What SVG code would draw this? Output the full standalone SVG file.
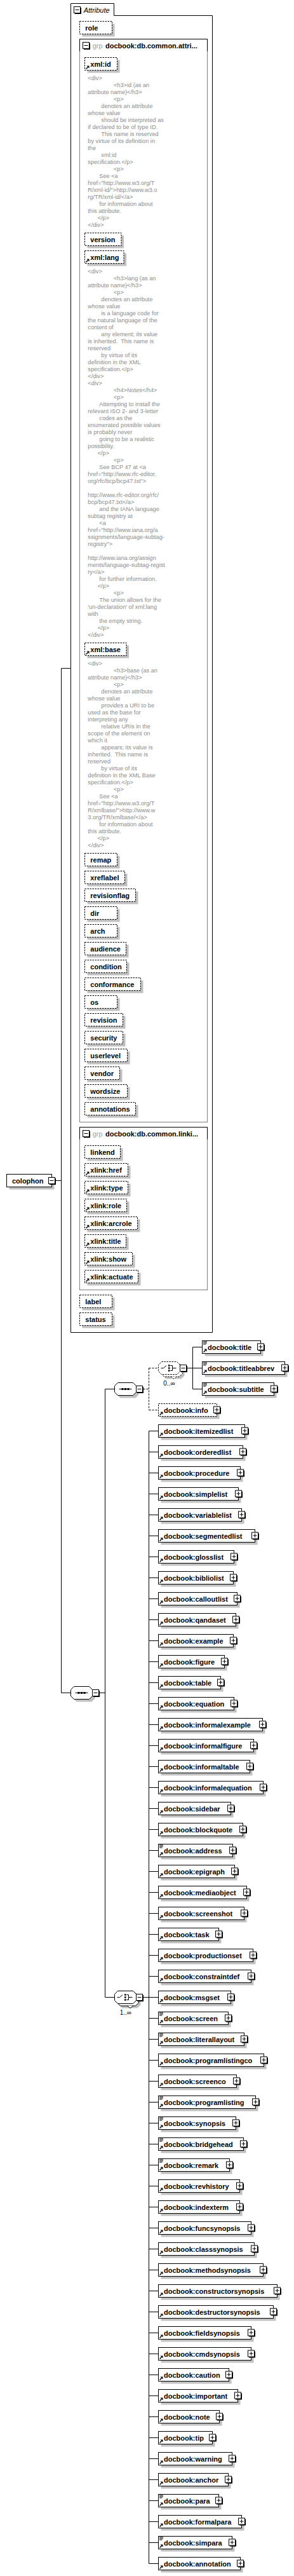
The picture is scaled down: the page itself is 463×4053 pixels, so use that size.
<svg xmlns="http://www.w3.org/2000/svg" width="463" height="4053" viewBox="0 0 463 4053">
<style>
.nm{font-family:"Liberation Sans",Arial,sans-serif;font-size:11px;font-weight:bold;fill:#000}
.ds{font-family:"Liberation Sans",Arial,sans-serif;font-size:9.2px;fill:#8c8c8c}
.gp{font-family:"Liberation Sans",Arial,sans-serif;font-size:11px;fill:#a0a0a0}
.it{font-family:"Liberation Sans",Arial,sans-serif;font-size:11px;font-style:italic;fill:#000}
.oc{font-family:"Liberation Sans",Arial,sans-serif;font-size:10px;fill:#000}
.sh{fill:#c0c0c0;stroke:none}
.bx{fill:#fff;stroke:#000;stroke-width:1}
.db{fill:#fff;stroke:#000;stroke-width:1;stroke-dasharray:2.5,1.5}
.fr{fill:none;stroke:#000;stroke-width:1}
.gf{fill:none;stroke:#808080;stroke-width:1}
.ln{fill:none;stroke:#000;stroke-width:1}
.dl{fill:none;stroke:#000;stroke-width:1;stroke-dasharray:3,2}
</style>
<defs>
<path id="oct" d="M5,0H29L34,5V15L29,20H5L0,15V5Z"/>
<g id="ra"><path d="M2,-2L5,-5" stroke="#000" stroke-width="1.4" fill="none"/><path d="M3,-7H7V-3Z" fill="#000"/></g>
<g id="mx"><path d="M1.5,1.5H7.5M1.5,3.5H7.5M1.5,5.5H6" stroke="#000" fill="none"/></g>
<g id="pl"><rect x="-4" y="-4" width="10" height="10" fill="#000"/><rect x="-5.5" y="-5.5" width="10" height="10" fill="#fff" stroke="#000"/><path d="M-3.5,-0.5H2.5M-0.5,-3.5V2.5" stroke="#000" fill="none"/></g>
<g id="mi"><rect x="-4" y="-4" width="10" height="10" fill="#000"/><rect x="-5.5" y="-5.5" width="10" height="10" fill="#fff" stroke="#000"/><path d="M-3.5,-0.5H2.5" stroke="#000" fill="none"/></g>
<g id="seqi"><path d="M7,10H27" stroke="#000" fill="none"/><rect x="11" y="8.5" width="3" height="3" fill="#000"/><rect x="15.5" y="8.5" width="3" height="3" fill="#000"/><rect x="20" y="8.5" width="3" height="3" fill="#000"/></g>
<g id="chi"><path d="M4,10H8L12.5,6M19,6H22V14H19M22,10H28" stroke="#000" fill="none"/><rect x="15.5" y="4.75" width="2.5" height="2.5" fill="#000"/><rect x="15.5" y="8.75" width="2.5" height="2.5" fill="#000"/><rect x="15.5" y="12.75" width="2.5" height="2.5" fill="#000"/></g>
</defs>
<rect width="463" height="4053" fill="#fff"/>

<g id="connectors">
<path class="ln" d="M87.5,1857.5H96.5M96.5,1051.5V2663.5M96.5,1051.5H111.5M96.5,2663.5H111.5"/>
<path class="ln" d="M156,2663.5H165.5M165.5,2185.5V3142.5M165.5,2185.5H180.5M165.5,3142.5H180.5"/>
<path class="dl" d="M225.5,2185.5H234.5M234.5,2152.5V2218.5M234.5,2152.5H249.5M234.5,2218.5H249.5"/>
<path class="ln" d="M294.5,2152.5H303.5M303.5,2119.5V2185.5M303.5,2119.5H318.5M303.5,2152.5H318.5M303.5,2185.5H318.5"/>
<path class="ln" d="M225.5,3142.5H234.5M234.5,2251.5V4033.5"/>
<path class="ln" d="M234.5,2251.5H249.5M234.5,2284.5H249.5M234.5,2317.5H249.5M234.5,2350.5H249.5M234.5,2383.5H249.5M234.5,2416.5H249.5M234.5,2449.5H249.5M234.5,2482.5H249.5M234.5,2515.5H249.5M234.5,2548.5H249.5M234.5,2581.5H249.5M234.5,2614.5H249.5M234.5,2647.5H249.5M234.5,2680.5H249.5M234.5,2713.5H249.5M234.5,2746.5H249.5M234.5,2779.5H249.5M234.5,2812.5H249.5M234.5,2845.5H249.5M234.5,2878.5H249.5M234.5,2911.5H249.5M234.5,2944.5H249.5M234.5,2977.5H249.5M234.5,3010.5H249.5M234.5,3043.5H249.5M234.5,3076.5H249.5M234.5,3109.5H249.5M234.5,3142.5H249.5M234.5,3175.5H249.5M234.5,3208.5H249.5M234.5,3241.5H249.5M234.5,3274.5H249.5M234.5,3307.5H249.5M234.5,3340.5H249.5M234.5,3373.5H249.5M234.5,3406.5H249.5M234.5,3439.5H249.5M234.5,3472.5H249.5M234.5,3505.5H249.5M234.5,3538.5H249.5M234.5,3571.5H249.5M234.5,3604.5H249.5M234.5,3637.5H249.5M234.5,3670.5H249.5M234.5,3703.5H249.5M234.5,3736.5H249.5M234.5,3769.5H249.5M234.5,3802.5H249.5M234.5,3835.5H249.5M234.5,3868.5H249.5M234.5,3901.5H249.5M234.5,3934.5H249.5M234.5,3967.5H249.5M234.5,4000.5H249.5M234.5,4033.5H249.5"/>
</g>

<g id="colophon">
<rect class="sh" x="14.5" y="1851.5" width="71" height="20"/>
<rect class="bx" x="10.5" y="1847.5" width="71" height="20"/>
<text class="nm" x="19" y="1861.5">colophon</text>
<use href="#mi" x="82" y="1858"/>
</g>

<g id="attributes">
<path class="fr" d="M111.5,5.5H179.5V24.5H334.5V2096.5H111.5Z"/>
<use href="#mi" x="122" y="16"/>
<text class="it" x="131.7" y="19.5">Attribute</text>

<g id="a-role" transform="translate(0,43.5)"><rect class="sh" x="129.5" y="-6" width="51" height="20"/><rect class="db" x="125.5" y="-10" width="51" height="20"/><text class="nm" x="134.3" y="4">role</text></g>

<g id="grp-common-attributes">
<rect class="gf" x="125.5" y="61.5" width="201" height="1704"/>
<path class="fr" d="M125.5,80.5V61.5H326.5V80.5"/>
<use href="#mi" x="136" y="72"/>
<text class="gp" x="145.7" y="75.5">grp</text>
<text class="nm" x="166" y="75.5">docbook:db.common.attri...</text>

<g id="a-xmlid" transform="translate(0,100.5)"><rect class="sh" x="137.5" y="-6" width="51" height="20"/><rect class="db" x="133.5" y="-10" width="51" height="20"/><use href="#ra" x="133.5" y="10"/><text class="nm" x="142.3" y="4">xml:id</text></g>
<text class="ds">
<tspan x="138.3" y="126">&lt;div&gt;</tspan>
<tspan x="179" y="137">&lt;h3&gt;id (as an</tspan>
<tspan x="138.3" y="148">attribute name)&lt;/h3&gt;</tspan>
<tspan x="179" y="159">&lt;p&gt;</tspan>
<tspan x="159.3" y="170">denotes an attribute</tspan>
<tspan x="138.3" y="181">whose value</tspan>
<tspan x="159.3" y="192">should be interpreted as</tspan>
<tspan x="138.3" y="203">if declared to be of type ID.</tspan>
<tspan x="159.3" y="214">This name is reserved</tspan>
<tspan x="138.3" y="225">by virtue of its definition in</tspan>
<tspan x="138.3" y="236">the</tspan>
<tspan x="159.3" y="247">xml:id</tspan>
<tspan x="138.3" y="258">specification.&lt;/p&gt;</tspan>
<tspan x="179" y="269">&lt;p&gt;</tspan>
<tspan x="156.3" y="280">See &lt;a</tspan>
<tspan x="138.3" y="291">href="http://www.w3.org/T</tspan>
<tspan x="138.3" y="302">R/xml-id/"&gt;http://www.w3.o</tspan>
<tspan x="138.3" y="313">rg/TR/xml-id/&lt;/a&gt;</tspan>
<tspan x="156.3" y="324">for information about</tspan>
<tspan x="138.3" y="335">this attribute.</tspan>
<tspan x="153.7" y="346">&lt;/p&gt;</tspan>
<tspan x="138.3" y="357">&lt;/div&gt;</tspan>
</text>

<g id="a-version" transform="translate(0,376.5)"><rect class="sh" x="137.5" y="-6" width="57.5" height="20"/><rect class="db" x="133.5" y="-10" width="57.5" height="20"/><text class="nm" x="142.3" y="4">version</text></g>

<g id="a-xmllang" transform="translate(0,404.5)"><rect class="sh" x="137.5" y="-6" width="61.5" height="20"/><rect class="db" x="133.5" y="-10" width="61.5" height="20"/><use href="#ra" x="133.5" y="10"/><text class="nm" x="142.3" y="4">xml:lang</text></g>
<text class="ds">
<tspan x="138.3" y="430">&lt;div&gt;</tspan>
<tspan x="179" y="441">&lt;h3&gt;lang (as an</tspan>
<tspan x="138.3" y="452">attribute name)&lt;/h3&gt;</tspan>
<tspan x="179" y="463">&lt;p&gt;</tspan>
<tspan x="159.3" y="474">denotes an attribute</tspan>
<tspan x="138.3" y="485">whose value</tspan>
<tspan x="159.3" y="496">is a language code for</tspan>
<tspan x="138.3" y="507">the natural language of the</tspan>
<tspan x="138.3" y="518">content of</tspan>
<tspan x="159.3" y="529">any element; its value</tspan>
<tspan x="138.3" y="540">is inherited.&#160; This name is</tspan>
<tspan x="138.3" y="551">reserved</tspan>
<tspan x="159.3" y="562">by virtue of its</tspan>
<tspan x="138.3" y="573">definition in the XML</tspan>
<tspan x="138.3" y="584">specification.&lt;/p&gt;</tspan>
<tspan x="138.3" y="595">&lt;/div&gt;</tspan>
<tspan x="138.3" y="606">&lt;div&gt;</tspan>
<tspan x="179" y="617">&lt;h4&gt;Notes&lt;/h4&gt;</tspan>
<tspan x="179" y="628">&lt;p&gt;</tspan>
<tspan x="156.3" y="639">Attempting to install the</tspan>
<tspan x="138.3" y="650">relevant ISO 2- and 3-letter</tspan>
<tspan x="156.3" y="661">codes as the</tspan>
<tspan x="138.3" y="672">enumerated possible values</tspan>
<tspan x="138.3" y="683">is probably never</tspan>
<tspan x="156.3" y="694">going to be a realistic</tspan>
<tspan x="138.3" y="705">possibility.</tspan>
<tspan x="153.7" y="716">&lt;/p&gt;</tspan>
<tspan x="179" y="727">&lt;p&gt;</tspan>
<tspan x="156.3" y="738">See BCP 47 at &lt;a</tspan>
<tspan x="138.3" y="749">href="http://www.rfc-editor.</tspan>
<tspan x="138.3" y="760">org/rfc/bcp/bcp47.txt"&gt;</tspan>
<tspan x="138.3" y="782">http://www.rfc-editor.org/rfc/</tspan>
<tspan x="138.3" y="793">bcp/bcp47.txt&lt;/a&gt;</tspan>
<tspan x="156.3" y="804">and the IANA language</tspan>
<tspan x="138.3" y="815">subtag registry at</tspan>
<tspan x="156.3" y="826">&lt;a</tspan>
<tspan x="138.3" y="837">href="http://www.iana.org/a</tspan>
<tspan x="138.3" y="848">ssignments/language-subtag-</tspan>
<tspan x="138.3" y="859">registry"&gt;</tspan>
<tspan x="138.3" y="881">http://www.iana.org/assign</tspan>
<tspan x="138.3" y="892">ments/language-subtag-regist</tspan>
<tspan x="138.3" y="903">ry&lt;/a&gt;</tspan>
<tspan x="156.3" y="914">for further information.</tspan>
<tspan x="153.7" y="925">&lt;/p&gt;</tspan>
<tspan x="179" y="936">&lt;p&gt;</tspan>
<tspan x="156.3" y="947">The union allows for the</tspan>
<tspan x="138.3" y="958">'un-declaration' of xml:lang</tspan>
<tspan x="138.3" y="969">with</tspan>
<tspan x="156.3" y="980">the empty string.</tspan>
<tspan x="153.7" y="991">&lt;/p&gt;</tspan>
<tspan x="138.3" y="1002">&lt;/div&gt;</tspan>
</text>

<g id="a-xmlbase" transform="translate(0,1021.5)"><rect class="sh" x="137.5" y="-6" width="65.5" height="20"/><rect class="db" x="133.5" y="-10" width="65.5" height="20"/><use href="#ra" x="133.5" y="10"/><text class="nm" x="142.3" y="4">xml:base</text></g>
<text class="ds">
<tspan x="138.3" y="1047">&lt;div&gt;</tspan>
<tspan x="179" y="1058">&lt;h3&gt;base (as an</tspan>
<tspan x="138.3" y="1069">attribute name)&lt;/h3&gt;</tspan>
<tspan x="179" y="1080">&lt;p&gt;</tspan>
<tspan x="159.3" y="1091">denotes an attribute</tspan>
<tspan x="138.3" y="1102">whose value</tspan>
<tspan x="159.3" y="1113">provides a URI to be</tspan>
<tspan x="138.3" y="1124">used as the base for</tspan>
<tspan x="138.3" y="1135">interpreting any</tspan>
<tspan x="159.3" y="1146">relative URIs in the</tspan>
<tspan x="138.3" y="1157">scope of the element on</tspan>
<tspan x="138.3" y="1168">which it</tspan>
<tspan x="159.3" y="1179">appears; its value is</tspan>
<tspan x="138.3" y="1190">inherited.&#160; This name is</tspan>
<tspan x="138.3" y="1201">reserved</tspan>
<tspan x="159.3" y="1212">by virtue of its</tspan>
<tspan x="138.3" y="1223">definition in the XML Base</tspan>
<tspan x="138.3" y="1234">specification.&lt;/p&gt;</tspan>
<tspan x="179" y="1245">&lt;p&gt;</tspan>
<tspan x="156.3" y="1256">See &lt;a</tspan>
<tspan x="138.3" y="1267">href="http://www.w3.org/T</tspan>
<tspan x="138.3" y="1278">R/xmlbase/"&gt;http://www.w</tspan>
<tspan x="138.3" y="1289">3.org/TR/xmlbase/&lt;/a&gt;</tspan>
<tspan x="156.3" y="1300">for information about</tspan>
<tspan x="138.3" y="1311">this attribute.</tspan>
<tspan x="153.7" y="1322">&lt;/p&gt;</tspan>
<tspan x="138.3" y="1333">&lt;/div&gt;</tspan>
</text>

<g id="a-remap" transform="translate(0,1352.5)"><rect class="sh" x="137.5" y="-6" width="51" height="20"/><rect class="db" x="133.5" y="-10" width="51" height="20"/><text class="nm" x="142.3" y="4">remap</text></g>
<g id="a-xreflabel" transform="translate(0,1380.5)"><rect class="sh" x="137.5" y="-6" width="63" height="20"/><rect class="db" x="133.5" y="-10" width="63" height="20"/><text class="nm" x="142.3" y="4">xreflabel</text></g>
<g id="a-revisionflag" transform="translate(0,1408.5)"><rect class="sh" x="137.5" y="-6" width="80" height="20"/><rect class="db" x="133.5" y="-10" width="80" height="20"/><text class="nm" x="142.3" y="4">revisionflag</text></g>
<g id="a-dir" transform="translate(0,1436.5)"><rect class="sh" x="137.5" y="-6" width="51" height="20"/><rect class="db" x="133.5" y="-10" width="51" height="20"/><text class="nm" x="142.3" y="4">dir</text></g>
<g id="a-arch" transform="translate(0,1464.5)"><rect class="sh" x="137.5" y="-6" width="51" height="20"/><rect class="db" x="133.5" y="-10" width="51" height="20"/><text class="nm" x="142.3" y="4">arch</text></g>
<g id="a-audience" transform="translate(0,1492.5)"><rect class="sh" x="137.5" y="-6" width="65" height="20"/><rect class="db" x="133.5" y="-10" width="65" height="20"/><text class="nm" x="142.3" y="4">audience</text></g>
<g id="a-condition" transform="translate(0,1520.5)"><rect class="sh" x="137.5" y="-6" width="66" height="20"/><rect class="db" x="133.5" y="-10" width="66" height="20"/><text class="nm" x="142.3" y="4">condition</text></g>
<g id="a-conformance" transform="translate(0,1548.5)"><rect class="sh" x="137.5" y="-6" width="88" height="20"/><rect class="db" x="133.5" y="-10" width="88" height="20"/><text class="nm" x="142.3" y="4">conformance</text></g>
<g id="a-os" transform="translate(0,1576.5)"><rect class="sh" x="137.5" y="-6" width="51" height="20"/><rect class="db" x="133.5" y="-10" width="51" height="20"/><text class="nm" x="142.3" y="4">os</text></g>
<g id="a-revision" transform="translate(0,1604.5)"><rect class="sh" x="137.5" y="-6" width="60" height="20"/><rect class="db" x="133.5" y="-10" width="60" height="20"/><text class="nm" x="142.3" y="4">revision</text></g>
<g id="a-security" transform="translate(0,1632.5)"><rect class="sh" x="137.5" y="-6" width="60" height="20"/><rect class="db" x="133.5" y="-10" width="60" height="20"/><text class="nm" x="142.3" y="4">security</text></g>
<g id="a-userlevel" transform="translate(0,1660.5)"><rect class="sh" x="137.5" y="-6" width="67" height="20"/><rect class="db" x="133.5" y="-10" width="67" height="20"/><text class="nm" x="142.3" y="4">userlevel</text></g>
<g id="a-vendor" transform="translate(0,1688.5)"><rect class="sh" x="137.5" y="-6" width="55" height="20"/><rect class="db" x="133.5" y="-10" width="55" height="20"/><text class="nm" x="142.3" y="4">vendor</text></g>
<g id="a-wordsize" transform="translate(0,1716.5)"><rect class="sh" x="137.5" y="-6" width="67" height="20"/><rect class="db" x="133.5" y="-10" width="67" height="20"/><text class="nm" x="142.3" y="4">wordsize</text></g>
<g id="a-annotations" transform="translate(0,1744.5)"><rect class="sh" x="137.5" y="-6" width="80" height="20"/><rect class="db" x="133.5" y="-10" width="80" height="20"/><text class="nm" x="142.3" y="4">annotations</text></g>
</g>

<g id="grp-common-linking">
<rect class="gf" x="125.5" y="1773.5" width="201" height="256"/>
<path class="fr" d="M125.5,1792.5V1773.5H326.5V1792.5"/>
<use href="#mi" x="136" y="1784"/>
<text class="gp" x="145.7" y="1787.5">grp</text>
<text class="nm" x="166" y="1787.5">docbook:db.common.linki...</text>
<g id="a-linkend" transform="translate(0,1812.5)"><rect class="sh" x="137.5" y="-6" width="56" height="20"/><rect class="db" x="133.5" y="-10" width="56" height="20"/><text class="nm" x="142.3" y="4">linkend</text></g>
<g id="a-xlinkhref" transform="translate(0,1840.5)"><rect class="sh" x="137.5" y="-6" width="68" height="20"/><rect class="db" x="133.5" y="-10" width="68" height="20"/><use href="#ra" x="133.5" y="10"/><text class="nm" x="142.3" y="4">xlink:href</text></g>
<g id="a-xlinktype" transform="translate(0,1868.5)"><rect class="sh" x="137.5" y="-6" width="68" height="20"/><rect class="db" x="133.5" y="-10" width="68" height="20"/><use href="#ra" x="133.5" y="10"/><text class="nm" x="142.3" y="4">xlink:type</text></g>
<g id="a-xlinkrole" transform="translate(0,1896.5)"><rect class="sh" x="137.5" y="-6" width="66" height="20"/><rect class="db" x="133.5" y="-10" width="66" height="20"/><use href="#ra" x="133.5" y="10"/><text class="nm" x="142.3" y="4">xlink:role</text></g>
<g id="a-xlinkarcrole" transform="translate(0,1924.5)"><rect class="sh" x="137.5" y="-6" width="83" height="20"/><rect class="db" x="133.5" y="-10" width="83" height="20"/><use href="#ra" x="133.5" y="10"/><text class="nm" x="142.3" y="4">xlink:arcrole</text></g>
<g id="a-xlinktitle" transform="translate(0,1952.5)"><rect class="sh" x="137.5" y="-6" width="65" height="20"/><rect class="db" x="133.5" y="-10" width="65" height="20"/><use href="#ra" x="133.5" y="10"/><text class="nm" x="142.3" y="4">xlink:title</text></g>
<g id="a-xlinkshow" transform="translate(0,1980.5)"><rect class="sh" x="137.5" y="-6" width="75" height="20"/><rect class="db" x="133.5" y="-10" width="75" height="20"/><use href="#ra" x="133.5" y="10"/><text class="nm" x="142.3" y="4">xlink:show</text></g>
<g id="a-xlinkactuate" transform="translate(0,2008.5)"><rect class="sh" x="137.5" y="-6" width="84" height="20"/><rect class="db" x="133.5" y="-10" width="84" height="20"/><use href="#ra" x="133.5" y="10"/><text class="nm" x="142.3" y="4">xlink:actuate</text></g>
</g>

<g id="a-label" transform="translate(0,2047.5)"><rect class="sh" x="129.5" y="-6" width="51" height="20"/><rect class="db" x="125.5" y="-10" width="51" height="20"/><text class="nm" x="134.3" y="4">label</text></g>
<g id="a-status" transform="translate(0,2075.5)"><rect class="sh" x="129.5" y="-6" width="51" height="20"/><rect class="db" x="125.5" y="-10" width="51" height="20"/><text class="nm" x="134.3" y="4">status</text></g>
</g>

<g id="seq-outer">
<use href="#oct" class="sh" x="115.5" y="2657.5"/>
<use href="#oct" class="bx" x="111.5" y="2653.5"/>
<use href="#seqi" x="111.5" y="2653.5"/>
<use href="#mi" x="151" y="2664"/>
</g>

<g id="seq-inner">
<use href="#oct" class="sh" x="184.5" y="2179.5"/>
<use href="#oct" class="bx" x="180.5" y="2175.5"/>
<use href="#seqi" x="180.5" y="2175.5"/>
<use href="#mi" x="220" y="2186"/>
</g>

<g id="choice-titles">
<use href="#oct" class="sh" x="256.5" y="2149.5"/>
<use href="#oct" class="db" x="253.5" y="2146"/>
<path d="M269.5,2166L274,2169.5L278.5,2166" fill="#fff" stroke="#000" stroke-dasharray="2,1.5"/>
<use href="#oct" class="db" x="249.5" y="2142.5"/>
<use href="#chi" x="249.5" y="2142.5"/>
<use href="#mi" x="289" y="2153"/>
<text class="oc" x="257.3" y="2179.5">0..∞</text>
</g>

<g id="e-title" transform="translate(0,2119.5)"><rect class="sh" x="322.5" y="-6" width="92" height="20"/><rect class="bx" x="318.5" y="-10" width="92" height="20"/><use href="#mx" x="318.5" y="-10"/><use href="#ra" x="318.5" y="10"/><text class="nm" x="327" y="4">docbook:title</text><use href="#pl" x="411" y="0"/></g>
<g id="e-titleabbrev" transform="translate(0,2152.5)"><rect class="sh" x="322.5" y="-6" width="130" height="20"/><rect class="bx" x="318.5" y="-10" width="130" height="20"/><use href="#mx" x="318.5" y="-10"/><use href="#ra" x="318.5" y="10"/><text class="nm" x="327" y="4">docbook:titleabbrev</text><use href="#pl" x="449" y="0"/></g>
<g id="e-subtitle" transform="translate(0,2185.5)"><rect class="sh" x="322.5" y="-6" width="113" height="20"/><rect class="bx" x="318.5" y="-10" width="113" height="20"/><use href="#mx" x="318.5" y="-10"/><use href="#ra" x="318.5" y="10"/><text class="nm" x="327" y="4">docbook:subtitle</text><use href="#pl" x="432" y="0"/></g>
<g id="e-info" transform="translate(0,2218.5)"><rect class="sh" x="253.5" y="-6" width="92" height="20"/><rect class="db" x="249.5" y="-10" width="92" height="20"/><use href="#ra" x="249.5" y="10"/><text class="nm" x="258" y="4">docbook:info</text><use href="#pl" x="342" y="0"/></g>

<g id="choice-blocks">
<use href="#oct" class="sh" x="187.5" y="3139.5"/>
<use href="#oct" class="bx" x="184.5" y="3136"/>
<path d="M200.5,3156L205,3159.5L209.5,3156" fill="#fff" stroke="#000"/>
<use href="#oct" class="bx" x="180.5" y="3132.5"/>
<use href="#chi" x="180.5" y="3132.5"/>
<use href="#mi" x="220" y="3143"/>
<text class="oc" x="188.7" y="3169.5">1..∞</text>
</g>

<g id="e-itemizedlist" transform="translate(0,2251.5)"><rect class="sh" x="253.5" y="-6" width="136" height="20"/><rect class="bx" x="249.5" y="-10" width="136" height="20"/><use href="#ra" x="249.5" y="10"/><text class="nm" x="258" y="4">docbook:itemizedlist</text><use href="#pl" x="386" y="0"/></g>
<g id="e-orderedlist" transform="translate(0,2284.5)"><rect class="sh" x="253.5" y="-6" width="133" height="20"/><rect class="bx" x="249.5" y="-10" width="133" height="20"/><use href="#ra" x="249.5" y="10"/><text class="nm" x="258" y="4">docbook:orderedlist</text><use href="#pl" x="383" y="0"/></g>
<g id="e-procedure" transform="translate(0,2317.5)"><rect class="sh" x="253.5" y="-6" width="129" height="20"/><rect class="bx" x="249.5" y="-10" width="129" height="20"/><use href="#ra" x="249.5" y="10"/><text class="nm" x="258" y="4">docbook:procedure</text><use href="#pl" x="379" y="0"/></g>
<g id="e-simplelist" transform="translate(0,2350.5)"><rect class="sh" x="253.5" y="-6" width="126" height="20"/><rect class="bx" x="249.5" y="-10" width="126" height="20"/><use href="#ra" x="249.5" y="10"/><text class="nm" x="258" y="4">docbook:simplelist</text><use href="#pl" x="376" y="0"/></g>
<g id="e-variablelist" transform="translate(0,2383.5)"><rect class="sh" x="253.5" y="-6" width="131" height="20"/><rect class="bx" x="249.5" y="-10" width="131" height="20"/><use href="#ra" x="249.5" y="10"/><text class="nm" x="258" y="4">docbook:variablelist</text><use href="#pl" x="381" y="0"/></g>
<g id="e-segmentedlist" transform="translate(0,2416.5)"><rect class="sh" x="253.5" y="-6" width="152" height="20"/><rect class="bx" x="249.5" y="-10" width="152" height="20"/><use href="#ra" x="249.5" y="10"/><text class="nm" x="258" y="4">docbook:segmentedlist</text><use href="#pl" x="402" y="0"/></g>
<g id="e-glosslist" transform="translate(0,2449.5)"><rect class="sh" x="253.5" y="-6" width="119" height="20"/><rect class="bx" x="249.5" y="-10" width="119" height="20"/><use href="#ra" x="249.5" y="10"/><text class="nm" x="258" y="4">docbook:glosslist</text><use href="#pl" x="369" y="0"/></g>
<g id="e-bibliolist" transform="translate(0,2482.5)"><rect class="sh" x="253.5" y="-6" width="118" height="20"/><rect class="bx" x="249.5" y="-10" width="118" height="20"/><use href="#ra" x="249.5" y="10"/><text class="nm" x="258" y="4">docbook:bibliolist</text><use href="#pl" x="368" y="0"/></g>
<g id="e-calloutlist" transform="translate(0,2515.5)"><rect class="sh" x="253.5" y="-6" width="124" height="20"/><rect class="bx" x="249.5" y="-10" width="124" height="20"/><use href="#ra" x="249.5" y="10"/><text class="nm" x="258" y="4">docbook:calloutlist</text><use href="#pl" x="374" y="0"/></g>
<g id="e-qandaset" transform="translate(0,2548.5)"><rect class="sh" x="253.5" y="-6" width="122" height="20"/><rect class="bx" x="249.5" y="-10" width="122" height="20"/><use href="#ra" x="249.5" y="10"/><text class="nm" x="258" y="4">docbook:qandaset</text><use href="#pl" x="372" y="0"/></g>
<g id="e-example" transform="translate(0,2581.5)"><rect class="sh" x="253.5" y="-6" width="118" height="20"/><rect class="bx" x="249.5" y="-10" width="118" height="20"/><use href="#ra" x="249.5" y="10"/><text class="nm" x="258" y="4">docbook:example</text><use href="#pl" x="368" y="0"/></g>
<g id="e-figure" transform="translate(0,2614.5)"><rect class="sh" x="253.5" y="-6" width="104" height="20"/><rect class="bx" x="249.5" y="-10" width="104" height="20"/><use href="#ra" x="249.5" y="10"/><text class="nm" x="258" y="4">docbook:figure</text><use href="#pl" x="354" y="0"/></g>
<g id="e-table" transform="translate(0,2647.5)"><rect class="sh" x="253.5" y="-6" width="98" height="20"/><rect class="bx" x="249.5" y="-10" width="98" height="20"/><use href="#ra" x="249.5" y="10"/><text class="nm" x="258" y="4">docbook:table</text><use href="#pl" x="348" y="0"/></g>
<g id="e-equation" transform="translate(0,2680.5)"><rect class="sh" x="253.5" y="-6" width="119" height="20"/><rect class="bx" x="249.5" y="-10" width="119" height="20"/><use href="#ra" x="249.5" y="10"/><text class="nm" x="258" y="4">docbook:equation</text><use href="#pl" x="369" y="0"/></g>
<g id="e-informalexample" transform="translate(0,2713.5)"><rect class="sh" x="253.5" y="-6" width="164" height="20"/><rect class="bx" x="249.5" y="-10" width="164" height="20"/><use href="#ra" x="249.5" y="10"/><text class="nm" x="258" y="4">docbook:informalexample</text><use href="#pl" x="414" y="0"/></g>
<g id="e-informalfigure" transform="translate(0,2746.5)"><rect class="sh" x="253.5" y="-6" width="150" height="20"/><rect class="bx" x="249.5" y="-10" width="150" height="20"/><use href="#ra" x="249.5" y="10"/><text class="nm" x="258" y="4">docbook:informalfigure</text><use href="#pl" x="400" y="0"/></g>
<g id="e-informaltable" transform="translate(0,2779.5)"><rect class="sh" x="253.5" y="-6" width="144" height="20"/><rect class="bx" x="249.5" y="-10" width="144" height="20"/><use href="#ra" x="249.5" y="10"/><text class="nm" x="258" y="4">docbook:informaltable</text><use href="#pl" x="394" y="0"/></g>
<g id="e-informalequation" transform="translate(0,2812.5)"><rect class="sh" x="253.5" y="-6" width="165" height="20"/><rect class="bx" x="249.5" y="-10" width="165" height="20"/><use href="#ra" x="249.5" y="10"/><text class="nm" x="258" y="4">docbook:informalequation</text><use href="#pl" x="415" y="0"/></g>
<g id="e-sidebar" transform="translate(0,2845.5)"><rect class="sh" x="253.5" y="-6" width="114" height="20"/><rect class="bx" x="249.5" y="-10" width="114" height="20"/><use href="#ra" x="249.5" y="10"/><text class="nm" x="258" y="4">docbook:sidebar</text><use href="#pl" x="364" y="0"/></g>
<g id="e-blockquote" transform="translate(0,2878.5)"><rect class="sh" x="253.5" y="-6" width="133" height="20"/><rect class="bx" x="249.5" y="-10" width="133" height="20"/><use href="#ra" x="249.5" y="10"/><text class="nm" x="258" y="4">docbook:blockquote</text><use href="#pl" x="383" y="0"/></g>
<g id="e-address" transform="translate(0,2911.5)"><rect class="sh" x="253.5" y="-6" width="117" height="20"/><rect class="bx" x="249.5" y="-10" width="117" height="20"/><use href="#mx" x="249.5" y="-10"/><use href="#ra" x="249.5" y="10"/><text class="nm" x="258" y="4">docbook:address</text><use href="#pl" x="367" y="0"/></g>
<g id="e-epigraph" transform="translate(0,2944.5)"><rect class="sh" x="253.5" y="-6" width="120" height="20"/><rect class="bx" x="249.5" y="-10" width="120" height="20"/><use href="#ra" x="249.5" y="10"/><text class="nm" x="258" y="4">docbook:epigraph</text><use href="#pl" x="370" y="0"/></g>
<g id="e-mediaobject" transform="translate(0,2977.5)"><rect class="sh" x="253.5" y="-6" width="139" height="20"/><rect class="bx" x="249.5" y="-10" width="139" height="20"/><use href="#ra" x="249.5" y="10"/><text class="nm" x="258" y="4">docbook:mediaobject</text><use href="#pl" x="389" y="0"/></g>
<g id="e-screenshot" transform="translate(0,3010.5)"><rect class="sh" x="253.5" y="-6" width="135" height="20"/><rect class="bx" x="249.5" y="-10" width="135" height="20"/><use href="#ra" x="249.5" y="10"/><text class="nm" x="258" y="4">docbook:screenshot</text><use href="#pl" x="385" y="0"/></g>
<g id="e-task" transform="translate(0,3043.5)"><rect class="sh" x="253.5" y="-6" width="95" height="20"/><rect class="bx" x="249.5" y="-10" width="95" height="20"/><use href="#ra" x="249.5" y="10"/><text class="nm" x="258" y="4">docbook:task</text><use href="#pl" x="345" y="0"/></g>
<g id="e-productionset" transform="translate(0,3076.5)"><rect class="sh" x="253.5" y="-6" width="149" height="20"/><rect class="bx" x="249.5" y="-10" width="149" height="20"/><use href="#ra" x="249.5" y="10"/><text class="nm" x="258" y="4">docbook:productionset</text><use href="#pl" x="399" y="0"/></g>
<g id="e-constraintdef" transform="translate(0,3109.5)"><rect class="sh" x="253.5" y="-6" width="146" height="20"/><rect class="bx" x="249.5" y="-10" width="146" height="20"/><use href="#ra" x="249.5" y="10"/><text class="nm" x="258" y="4">docbook:constraintdef</text><use href="#pl" x="396" y="0"/></g>
<g id="e-msgset" transform="translate(0,3142.5)"><rect class="sh" x="253.5" y="-6" width="114" height="20"/><rect class="bx" x="249.5" y="-10" width="114" height="20"/><use href="#ra" x="249.5" y="10"/><text class="nm" x="258" y="4">docbook:msgset</text><use href="#pl" x="364" y="0"/></g>
<g id="e-screen" transform="translate(0,3175.5)"><rect class="sh" x="253.5" y="-6" width="110" height="20"/><rect class="bx" x="249.5" y="-10" width="110" height="20"/><use href="#mx" x="249.5" y="-10"/><use href="#ra" x="249.5" y="10"/><text class="nm" x="258" y="4">docbook:screen</text><use href="#pl" x="360" y="0"/></g>
<g id="e-literallayout" transform="translate(0,3208.5)"><rect class="sh" x="253.5" y="-6" width="135" height="20"/><rect class="bx" x="249.5" y="-10" width="135" height="20"/><use href="#mx" x="249.5" y="-10"/><use href="#ra" x="249.5" y="10"/><text class="nm" x="258" y="4">docbook:literallayout</text><use href="#pl" x="385" y="0"/></g>
<g id="e-programlistingco" transform="translate(0,3241.5)"><rect class="sh" x="253.5" y="-6" width="166" height="20"/><rect class="bx" x="249.5" y="-10" width="166" height="20"/><use href="#ra" x="249.5" y="10"/><text class="nm" x="258" y="4">docbook:programlistingco</text><use href="#pl" x="416" y="0"/></g>
<g id="e-screenco" transform="translate(0,3274.5)"><rect class="sh" x="253.5" y="-6" width="123" height="20"/><rect class="bx" x="249.5" y="-10" width="123" height="20"/><use href="#ra" x="249.5" y="10"/><text class="nm" x="258" y="4">docbook:screenco</text><use href="#pl" x="373" y="0"/></g>
<g id="e-programlisting" transform="translate(0,3307.5)"><rect class="sh" x="253.5" y="-6" width="153" height="20"/><rect class="bx" x="249.5" y="-10" width="153" height="20"/><use href="#mx" x="249.5" y="-10"/><use href="#ra" x="249.5" y="10"/><text class="nm" x="258" y="4">docbook:programlisting</text><use href="#pl" x="403" y="0"/></g>
<g id="e-synopsis" transform="translate(0,3340.5)"><rect class="sh" x="253.5" y="-6" width="122" height="20"/><rect class="bx" x="249.5" y="-10" width="122" height="20"/><use href="#mx" x="249.5" y="-10"/><use href="#ra" x="249.5" y="10"/><text class="nm" x="258" y="4">docbook:synopsis</text><use href="#pl" x="372" y="0"/></g>
<g id="e-bridgehead" transform="translate(0,3373.5)"><rect class="sh" x="253.5" y="-6" width="134" height="20"/><rect class="bx" x="249.5" y="-10" width="134" height="20"/><use href="#mx" x="249.5" y="-10"/><use href="#ra" x="249.5" y="10"/><text class="nm" x="258" y="4">docbook:bridgehead</text><use href="#pl" x="384" y="0"/></g>
<g id="e-remark" transform="translate(0,3406.5)"><rect class="sh" x="253.5" y="-6" width="112" height="20"/><rect class="bx" x="249.5" y="-10" width="112" height="20"/><use href="#mx" x="249.5" y="-10"/><use href="#ra" x="249.5" y="10"/><text class="nm" x="258" y="4">docbook:remark</text><use href="#pl" x="362" y="0"/></g>
<g id="e-revhistory" transform="translate(0,3439.5)"><rect class="sh" x="253.5" y="-6" width="128" height="20"/><rect class="bx" x="249.5" y="-10" width="128" height="20"/><use href="#ra" x="249.5" y="10"/><text class="nm" x="258" y="4">docbook:revhistory</text><use href="#pl" x="378" y="0"/></g>
<g id="e-indexterm" transform="translate(0,3472.5)"><rect class="sh" x="253.5" y="-6" width="128" height="20"/><rect class="bx" x="249.5" y="-10" width="128" height="20"/><use href="#ra" x="249.5" y="10"/><text class="nm" x="258" y="4">docbook:indexterm</text><use href="#pl" x="378" y="0"/></g>
<g id="e-funcsynopsis" transform="translate(0,3505.5)"><rect class="sh" x="253.5" y="-6" width="146" height="20"/><rect class="bx" x="249.5" y="-10" width="146" height="20"/><use href="#ra" x="249.5" y="10"/><text class="nm" x="258" y="4">docbook:funcsynopsis</text><use href="#pl" x="396" y="0"/></g>
<g id="e-classsynopsis" transform="translate(0,3538.5)"><rect class="sh" x="253.5" y="-6" width="151" height="20"/><rect class="bx" x="249.5" y="-10" width="151" height="20"/><use href="#ra" x="249.5" y="10"/><text class="nm" x="258" y="4">docbook:classsynopsis</text><use href="#pl" x="401" y="0"/></g>
<g id="e-methodsynopsis" transform="translate(0,3571.5)"><rect class="sh" x="253.5" y="-6" width="165" height="20"/><rect class="bx" x="249.5" y="-10" width="165" height="20"/><use href="#ra" x="249.5" y="10"/><text class="nm" x="258" y="4">docbook:methodsynopsis</text><use href="#pl" x="415" y="0"/></g>
<g id="e-constructorsynopsis" transform="translate(0,3604.5)"><rect class="sh" x="253.5" y="-6" width="187" height="20"/><rect class="bx" x="249.5" y="-10" width="187" height="20"/><use href="#ra" x="249.5" y="10"/><text class="nm" x="258" y="4">docbook:constructorsynopsis</text><use href="#pl" x="437" y="0"/></g>
<g id="e-destructorsynopsis" transform="translate(0,3637.5)"><rect class="sh" x="253.5" y="-6" width="181" height="20"/><rect class="bx" x="249.5" y="-10" width="181" height="20"/><use href="#ra" x="249.5" y="10"/><text class="nm" x="258" y="4">docbook:destructorsynopsis</text><use href="#pl" x="431" y="0"/></g>
<g id="e-fieldsynopsis" transform="translate(0,3670.5)"><rect class="sh" x="253.5" y="-6" width="146" height="20"/><rect class="bx" x="249.5" y="-10" width="146" height="20"/><use href="#ra" x="249.5" y="10"/><text class="nm" x="258" y="4">docbook:fieldsynopsis</text><use href="#pl" x="396" y="0"/></g>
<g id="e-cmdsynopsis" transform="translate(0,3703.5)"><rect class="sh" x="253.5" y="-6" width="146" height="20"/><rect class="bx" x="249.5" y="-10" width="146" height="20"/><use href="#ra" x="249.5" y="10"/><text class="nm" x="258" y="4">docbook:cmdsynopsis</text><use href="#pl" x="396" y="0"/></g>
<g id="e-caution" transform="translate(0,3736.5)"><rect class="sh" x="253.5" y="-6" width="111" height="20"/><rect class="bx" x="249.5" y="-10" width="111" height="20"/><use href="#ra" x="249.5" y="10"/><text class="nm" x="258" y="4">docbook:caution</text><use href="#pl" x="361" y="0"/></g>
<g id="e-important" transform="translate(0,3769.5)"><rect class="sh" x="253.5" y="-6" width="125" height="20"/><rect class="bx" x="249.5" y="-10" width="125" height="20"/><use href="#ra" x="249.5" y="10"/><text class="nm" x="258" y="4">docbook:important</text><use href="#pl" x="375" y="0"/></g>
<g id="e-note" transform="translate(0,3802.5)"><rect class="sh" x="253.5" y="-6" width="96" height="20"/><rect class="bx" x="249.5" y="-10" width="96" height="20"/><use href="#ra" x="249.5" y="10"/><text class="nm" x="258" y="4">docbook:note</text><use href="#pl" x="346" y="0"/></g>
<g id="e-tip" transform="translate(0,3835.5)"><rect class="sh" x="253.5" y="-6" width="85" height="20"/><rect class="bx" x="249.5" y="-10" width="85" height="20"/><use href="#ra" x="249.5" y="10"/><text class="nm" x="258" y="4">docbook:tip</text><use href="#pl" x="335" y="0"/></g>
<g id="e-warning" transform="translate(0,3868.5)"><rect class="sh" x="253.5" y="-6" width="116" height="20"/><rect class="bx" x="249.5" y="-10" width="116" height="20"/><use href="#ra" x="249.5" y="10"/><text class="nm" x="258" y="4">docbook:warning</text><use href="#pl" x="366" y="0"/></g>
<g id="e-anchor" transform="translate(0,3901.5)"><rect class="sh" x="253.5" y="-6" width="110" height="20"/><rect class="bx" x="249.5" y="-10" width="110" height="20"/><use href="#ra" x="249.5" y="10"/><text class="nm" x="258" y="4">docbook:anchor</text><use href="#pl" x="360" y="0"/></g>
<g id="e-para" transform="translate(0,3934.5)"><rect class="sh" x="253.5" y="-6" width="95" height="20"/><rect class="bx" x="249.5" y="-10" width="95" height="20"/><use href="#mx" x="249.5" y="-10"/><use href="#ra" x="249.5" y="10"/><text class="nm" x="258" y="4">docbook:para</text><use href="#pl" x="345" y="0"/></g>
<g id="e-formalpara" transform="translate(0,3967.5)"><rect class="sh" x="253.5" y="-6" width="131" height="20"/><rect class="bx" x="249.5" y="-10" width="131" height="20"/><use href="#ra" x="249.5" y="10"/><text class="nm" x="258" y="4">docbook:formalpara</text><use href="#pl" x="381" y="0"/></g>
<g id="e-simpara" transform="translate(0,4000.5)"><rect class="sh" x="253.5" y="-6" width="116" height="20"/><rect class="bx" x="249.5" y="-10" width="116" height="20"/><use href="#mx" x="249.5" y="-10"/><use href="#ra" x="249.5" y="10"/><text class="nm" x="258" y="4">docbook:simpara</text><use href="#pl" x="366" y="0"/></g>
<g id="e-annotation" transform="translate(0,4033.5)"><rect class="sh" x="253.5" y="-6" width="129" height="20"/><rect class="bx" x="249.5" y="-10" width="129" height="20"/><use href="#ra" x="249.5" y="10"/><text class="nm" x="258" y="4">docbook:annotation</text><use href="#pl" x="379" y="0"/></g>
</svg>
